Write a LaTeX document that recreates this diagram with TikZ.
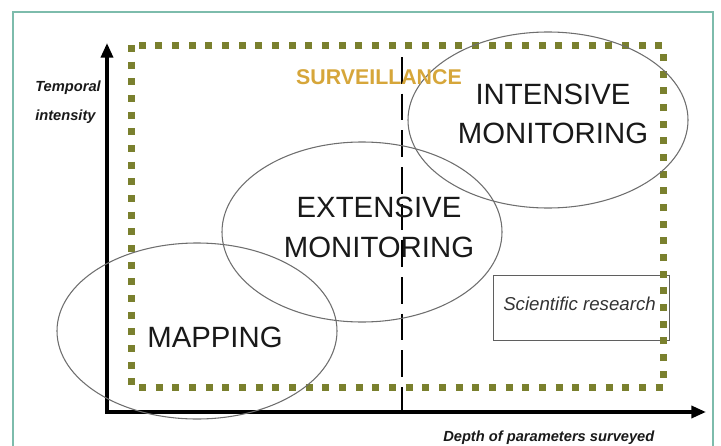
\documentclass[tikz,border=0pt]{standalone}
\usepackage{fontspec}
\setmainfont{Liberation Sans}
\usetikzlibrary{shapes.geometric,arrows.meta}
\definecolor{framec}{RGB}{125,188,172}
\definecolor{dotolive}{RGB}{122,128,46}
\definecolor{survgold}{RGB}{214,166,58}
\definecolor{ellgray}{RGB}{110,110,110}
\definecolor{boxgray}{RGB}{95,95,95}
\begin{document}
\begin{tikzpicture}[x=0.75pt,y=-0.75pt,
  ell/.style={ellipse, draw=ellgray, line width=0.8pt, inner sep=0pt, minimum width=210pt, minimum height=132pt},
  bigtxt/.style={font=\fontsize{22}{29.25}\selectfont, align=center, inner sep=0pt, text=black!90},
  axislbl/.style={font=\fontsize{11}{21.75}\selectfont\bfseries\itshape, inner sep=0pt, text=black!90},
  axisline/.style={line width=2.6pt, line join=miter, {Triangle[length=11pt,width=9pt]}-{Triangle[length=11pt,width=9pt]}},
  dotframe/.style={draw=dotolive, line width=5.25pt, dash pattern=on 5.25pt off 7.25pt},
  divider/.style={line width=1.5pt, dash pattern=on 20pt off 7.5pt}]
\useasboundingbox (0,0) rectangle (721,446);
% outer frame
\draw[framec, line width=1.2pt] (13,12) rectangle (713,470);
% scientific research box
\node[draw=boxgray, line width=0.8pt, minimum width=132pt, minimum height=48.75pt, inner sep=0pt, anchor=north west] (sci) at (493,275) {};
\node[font=\fontsize{14}{17}\selectfont\itshape, text=black!80, anchor=base west, inner sep=0pt] (sciT) at (503,310) {Scientific research};
% dotted surveillance frame
\draw[dotframe] (131,45) rectangle (663,387);
% axes
\coordinate (O) at (107,412);
\coordinate (ytip) at (107,43);
\coordinate (xtip) at (706,412);
\draw[axisline] (ytip) -- (O) -- (xtip);
% dashed divider
\coordinate (dtop) at (402,57);
\coordinate (dbot) at (402,412);
\draw[divider] (dtop) -- (dbot);
% ellipses
\node[ell, minimum height=132pt] (intE) at (548,120) {};
\node[ell, minimum height=135pt] (extE) at (362,232) {};
\node[ell, minimum height=132pt] (mapE) at (197,331) {};
% texts
\node[bigtxt] (intT) at (553,114) {INTENSIVE\\MONITORING};
\node[bigtxt, font=\fontsize{22}{30}\selectfont] (extT) at (379,227) {EXTENSIVE\\MONITORING};
\node[bigtxt, anchor=base] (mapT) at (215,347) {MAPPING};
\node[font=\fontsize{16}{19}\selectfont\bfseries, text=survgold, anchor=base, inner sep=0pt] (surv) at (379,84) {SURVEILLANCE};
\node[axislbl, align=left, anchor=west] (ylab) at (35,102) {Temporal\\intensity};
\node[axislbl, anchor=base west] (xlab) at (443,441) {Depth of parameters surveyed};
\end{tikzpicture}
\end{document}
